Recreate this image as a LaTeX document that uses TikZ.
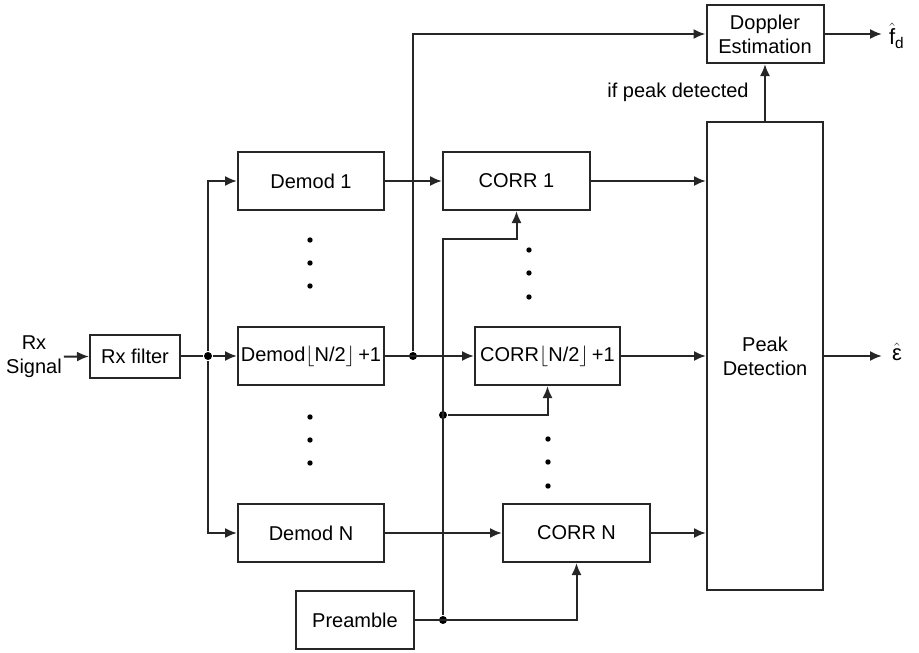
\documentclass[tikz,border=0pt]{standalone}
\usepackage{amsmath}
\usepackage{fontspec}
\setmainfont{Liberation Sans}
\usepackage{tikz}
\usetikzlibrary{arrows.meta,positioning,calc}

\begin{document}
\begin{tikzpicture}[
  x=1pt,
  y=-1pt,
  line width=2pt,
  font=\fontsize{20}{24}\selectfont,
  blk/.style={draw=black!85,line width=2pt,minimum width=146pt,minimum height=58pt,inner sep=0pt,align=center},
  txt/.style={align=center,inner sep=1pt},
  sig/.style={-{Latex[length=12pt,width=10pt]},draw=black!85},
  dot/.style={circle,fill=black,inner sep=0pt,minimum size=8pt}
]
  \useasboundingbox (0,0) rectangle (919,653);

  \node[txt] (rxsig) at (34,357) {Rx\\Signal};
  \node[blk,minimum width=90pt,minimum height=43pt] (rxfilter) at (135,356) {Rx filter};

  \node[blk] (demod1) at (311,181) {Demod 1};
  \node[blk] (demodmid) at (311,356) {Demod$\lfloor$N/2$\rfloor$\,+1};
  \node[blk] (demodN) at (311,533) {Demod N};

  \node[blk,minimum width=147pt] (corr1) at (516.5,181) {CORR 1};
  \node[blk,minimum width=145pt] (corrmid) at (547.5,356) {CORR$\lfloor$N/2$\rfloor$\,+1};
  \node[blk,minimum width=147pt] (corrN) at (576.5,533) {CORR N};

  \node[blk,minimum width=118pt] (preamble) at (355,620) {Preamble};
  \node[blk,minimum width=116pt,minimum height=468pt] (peak) at (765,356) {Peak\\Detection};
  \node[blk,minimum width=117pt] (doppler) at (765,34) {Doppler\\Estimation};

  \node[txt] (ifpeak) at (678,92) {if peak detected};
  \node[txt,anchor=west,font=\fontsize{22}{24}\selectfont] (fd) at (887,36) {$\hat{\text{f}}_{\text{d}}$};
  \node[txt,anchor=west,font=\fontsize{22}{24}\selectfont] (eps) at (890,352) {$\hat{\text{ε}}$};

  % junction points
  \node[dot] (j1) at (208,356) {};
  \node[dot] (j2) at (413,356) {};
  \node[dot] (j3) at (443,620) {};
  \node[dot] (j4) at (443,415) {};
  \coordinate (c1) at (516.5,239);

  \draw[sig] (rxsig) -- (rxfilter);
  \draw[draw=black!85] (rxfilter) -- (j1);
  \draw[sig] (j1) |- (demod1);
  \draw[sig] (j1) -- (demodmid);
  \draw[sig] (j1) |- (demodN);

  \draw[sig] (demod1) -- (corr1);
  \draw[sig] (demodmid) -- (corrmid);
  \draw[sig] (demodN) -- (corrN);
  \draw[sig] (j2) |- (doppler);

  \draw[sig] (preamble) -| (corrN);
  \draw[sig] (j3) |- (c1) -- (corr1);
  \draw[sig] (j4) -| (corrmid);

  \draw[sig] (corr1) -- (corr1 -| peak.west);
  \draw[sig] (corrmid) -- (corrmid -| peak.west);
  \draw[sig] (corrN) -- (corrN -| peak.west);

  \draw[sig] (peak) -- (doppler);
  \draw[sig] (doppler) -- (882,34);
  \draw[sig] (peak.east) -- (882,356);

  \foreach \y in {240,263,286,417,440,463} \fill (310,\y) circle (2.7pt);
  \foreach \y in {250,273,297} \fill (529,\y) circle (2.7pt);
  \foreach \y in {439,462,486} \fill (548,\y) circle (2.7pt);
\end{tikzpicture}
\end{document}
